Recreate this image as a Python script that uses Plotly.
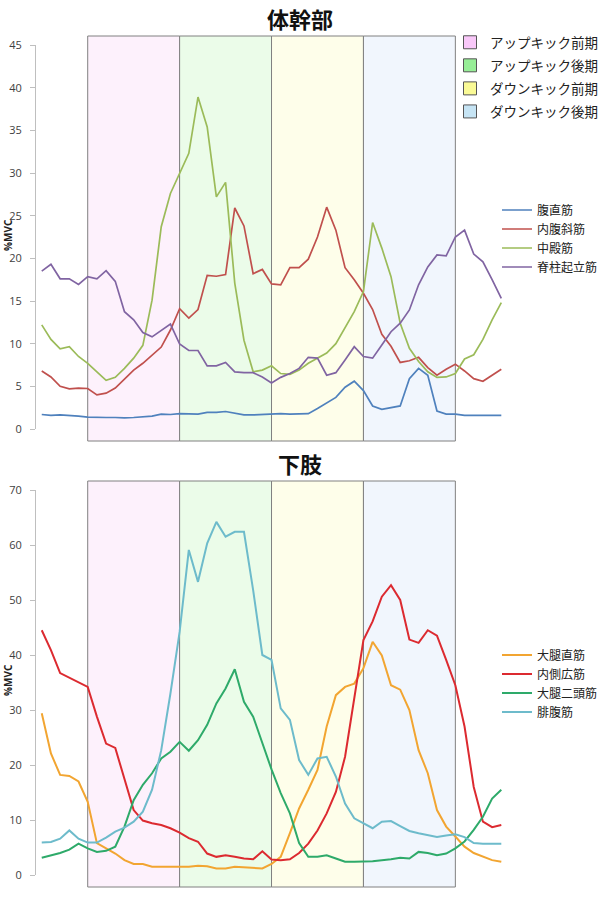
import plotly.graph_objects as go

# ---------------- data ----------------
idx = list(range(51))  # 51 samples over the pedal stroke

phase_names = ["アップキック前期", "アップキック後期", "ダウンキック前期", "ダウンキック後期"]
phase_bounds = [5, 15, 25, 35, 45]
phase_fill = ["#FDF1FC", "#EBFCE9", "#FEFEEA", "#F1F6FD"]
phase_swatch = ["#F9C8F9", "#97EE97", "#FAFA96", "#C6E4F4"]

trunk_names = ["腹直筋", "内腹斜筋", "中殿筋", "脊柱起立筋"]
trunk_colors = ["#4F81BD", "#C0504D", "#9BBB59", "#8064A2"]
rectus_abdominis = [1.7, 1.6, 1.65, 1.6, 1.5, 1.4, 1.35, 1.35, 1.35, 1.3,
                    1.35, 1.45, 1.5, 1.75, 1.7, 1.8, 1.75, 1.75, 1.95, 1.95,
                    2.05, 1.85, 1.65, 1.65, 1.7, 1.75, 1.8, 1.75, 1.75, 1.8,
                    2.4, 3.0, 3.7, 4.9, 5.6, 4.5, 2.7, 2.3, 2.5, 2.7,
                    5.9, 7.1, 6.3, 2.1, 1.75, 1.75, 1.6, 1.6, 1.6, 1.6, 1.6]
internal_oblique = [6.8, 6.1, 5.0, 4.7, 4.8, 4.75, 4.0, 4.2, 4.8, 5.9,
                    6.9, 7.7, 8.7, 9.6, 11.6, 14.1, 13.0, 14.0, 18.0, 17.9,
                    18.1, 25.9, 23.8, 18.2, 18.7, 17.0, 16.9, 18.9, 18.9, 19.9,
                    22.5, 26.0, 23.3, 18.9, 17.5, 15.9, 14.0, 11.1, 9.7, 7.8,
                    8.0, 8.4, 7.2, 6.3, 7.0, 7.6, 6.8, 5.9, 5.6, 6.3, 7.0]
gluteus_medius = [12.2, 10.5, 9.4, 9.65, 8.5, 7.7, 6.7, 5.7, 6.05, 7.1,
                  8.3, 9.8, 15.1, 23.7, 27.6, 30.0, 32.3, 38.9, 35.4, 27.2,
                  28.9, 17.1, 10.4, 6.7, 6.9, 7.4, 6.5, 6.4, 6.9, 7.7,
                  8.3, 8.9, 10.0, 11.8, 13.75, 16.1, 24.2, 21.2, 17.85, 12.4,
                  9.45, 7.9, 6.7, 6.05, 6.1, 6.5, 8.2, 8.7, 10.5, 12.8, 14.8]
erector_spinae = [18.5, 19.3, 17.6, 17.6, 16.95, 17.85, 17.6, 18.55, 17.3, 13.75,
                  12.8, 11.3, 10.8, 11.6, 12.3, 9.96, 9.2, 9.2, 7.4, 7.4,
                  7.8, 6.7, 6.6, 6.6, 6.1, 5.4, 6.05, 6.5, 7.1, 8.4,
                  8.3, 6.3, 6.6, 8.1, 9.65, 8.5, 8.3, 9.85, 11.4, 12.4,
                  13.95, 16.9, 19.0, 20.4, 20.3, 22.5, 23.3, 20.5, 19.6, 17.5, 15.3]

leg_names = ["大腿直筋", "内側広筋", "大腿二頭筋", "腓腹筋"]
leg_colors = ["#F2A531", "#DC2A30", "#2EAA6A", "#6DBBCB"]
rectus_femoris = [29.4, 22.1, 18.2, 18.0, 17.0, 13.3, 5.8, 4.85, 3.9, 2.7,
                  2.0, 2.0, 1.5, 1.5, 1.5, 1.4, 1.5, 1.7, 1.6, 1.2,
                  1.2, 1.5, 1.4, 1.2, 1.2, 2.0, 3.3, 7.6, 12.1, 15.5,
                  19.1, 27.0, 32.7, 34.2, 34.8, 37.6, 42.4, 39.9, 34.5, 33.7,
                  30.0, 22.7, 18.5, 11.8, 8.8, 7.0, 5.15, 4.0, 3.3, 2.7, 2.4]
vastus_medialis = [44.5, 40.9, 36.7, 35.9, 35.1, 34.2, 28.8, 23.9, 23.1, 17.3,
                   11.8, 9.9, 9.4, 9.1, 8.5, 7.7, 6.7, 6.05, 3.9, 3.3,
                   3.6, 3.3, 3.0, 2.85, 4.3, 2.8, 2.7, 2.85, 4.0, 5.7,
                   8.1, 11.2, 15.1, 21.5, 31.8, 42.7, 46.1, 50.6, 52.7, 50.0,
                   42.8, 42.2, 44.5, 43.5, 39.1, 34.5, 27.0, 16.0, 9.7, 8.7, 9.1]
biceps_femoris = [3.15, 3.6, 4.0, 4.6, 5.7, 4.85, 4.2, 4.4, 5.15, 8.8,
                  13.6, 16.4, 18.5, 21.2, 22.4, 24.2, 22.6, 24.5, 27.3, 31.2,
                  33.9, 37.4, 31.5, 28.8, 23.8, 19.2, 14.9, 11.2, 5.8, 3.3,
                  3.3, 3.6, 3.0, 2.4, 2.4, 2.4, 2.5, 2.7, 2.85, 3.15,
                  3.0, 4.2, 4.0, 3.6, 3.9, 4.85, 6.1, 8.2, 10.6, 13.9, 15.5]
gastrocnemius = [5.9, 6.0, 6.6, 8.1, 6.6, 5.9, 5.9, 6.8, 7.9, 8.6,
                 9.7, 11.5, 15.5, 22.7, 33.0, 44.2, 59.1, 53.3, 60.3, 64.2,
                 61.5, 62.4, 62.4, 51.8, 40.0, 39.1, 30.3, 28.2, 20.9, 18.2,
                 21.2, 21.5, 17.9, 13.0, 10.3, 9.4, 8.5, 9.7, 9.8, 8.9,
                 8.0, 7.6, 7.2, 6.9, 7.2, 7.4, 6.9, 5.8, 5.7, 5.7, 5.7]

trunk_series = [rectus_abdominis, internal_oblique, gluteus_medius, erector_spinae]
leg_series = [rectus_femoris, vastus_medialis, biceps_femoris, gastrocnemius]

titles = ["体幹部", "下肢"]
y_label = "%MVC"

# ---------------- layout geometry ----------------
W, H = 600, 897
JP = "Noto Sans CJK JP"

def py(pix):  # pixel from top -> paper y
    return 1 - pix / H

x_dom = [36 / W, 505.9 / W]
x_rng = [-0.626, 50.5]
top_dom = [py(429), py(45)]
bot_dom = [py(875), py(490)]

fig = go.Figure()

# phase legend (dummy entries)
for k, name in enumerate(phase_names):
    fig.add_trace(go.Scatter(
        x=[None], y=[None], mode="markers", name=name,
        marker=dict(symbol="square", size=13, color=phase_swatch[k],
                    line=dict(color="#555555", width=1)),
        legend="legend", legendgroup=f"p{k}", xaxis="x", yaxis="y",
        hoverinfo="skip"))

for name, col, ys in zip(trunk_names, trunk_colors, trunk_series):
    fig.add_trace(go.Scatter(x=idx, y=ys, mode="lines", name=name,
                             line=dict(color=col, width=1.7),
                             legend="legend2", xaxis="x", yaxis="y"))

for name, col, ys in zip(leg_names, leg_colors, leg_series):
    fig.add_trace(go.Scatter(x=idx, y=ys, mode="lines", name=name,
                             line=dict(color=col, width=2),
                             legend="legend3", xaxis="x2", yaxis="y2"))

# phase boxes
shapes = []
for xref, (ytop, ybot) in [("x", (36, 441)), ("x2", (481, 887))]:
    for k in range(4):
        shapes.append(dict(type="rect", xref=xref, yref="paper",
                           x0=phase_bounds[k], x1=phase_bounds[k + 1],
                           y0=py(ybot), y1=py(ytop),
                           fillcolor=phase_fill[k],
                           line=dict(color="#808080", width=1),
                           layer="below"))

yax_common = dict(showgrid=False, zeroline=False, showline=True,
                  linecolor="#BFBFBF", linewidth=1, ticks="outside",
                  tickcolor="#BFBFBF", ticklen=5, ticklabelstandoff=6,
                  automargin=False,
                  tickfont=dict(family="Open Sans", size=11, color="#404040"))

annotations = [
    dict(text=f"<b>{titles[0]}</b>", x=0.5, y=py(18), xref="paper", yref="paper",
         xanchor="center", yanchor="middle", showarrow=False,
         font=dict(family=JP, size=22, color="#111111")),
    dict(text=f"<b>{titles[1]}</b>", x=0.5, y=py(463), xref="paper", yref="paper",
         xanchor="center", yanchor="middle", showarrow=False,
         font=dict(family=JP, size=22, color="#111111")),
    dict(text=f"<b>{y_label}</b>", x=8 / W, y=py(235), xref="paper", yref="paper",
         xanchor="center", yanchor="middle", showarrow=False, textangle=-90,
         font=dict(family="Open Sans", size=10, color="#222222")),
    dict(text=f"<b>{y_label}</b>", x=8 / W, y=py(680), xref="paper", yref="paper",
         xanchor="center", yanchor="middle", showarrow=False, textangle=-90,
         font=dict(family="Open Sans", size=10, color="#222222")),
]

fig.update_layout(
    width=W, height=H,
    margin=dict(l=0, r=0, t=0, b=0, pad=0, autoexpand=False),
    paper_bgcolor="white", plot_bgcolor="rgba(0,0,0,0)",
    xaxis=dict(domain=x_dom, range=x_rng, visible=False, anchor="y"),
    xaxis2=dict(domain=x_dom, range=x_rng, visible=False, anchor="y2"),
    yaxis=dict(domain=top_dom, range=[0, 45], dtick=5, anchor="x", **yax_common),
    yaxis2=dict(domain=bot_dom, range=[0, 70], dtick=10, anchor="x2", **yax_common),
    shapes=shapes, annotations=annotations,
    legend=dict(x=450 / W, y=py(27), xanchor="left", yanchor="top",
                bgcolor="rgba(0,0,0,0)", tracegroupgap=2.5, itemwidth=30,
                font=dict(family=JP, size=13.5, color="#222222")),
    legend2=dict(x=497 / W, y=py(195.5), xanchor="left", yanchor="top",
                 bgcolor="rgba(0,0,0,0)", itemwidth=30,
                 font=dict(family=JP, size=12, color="#222222")),
    legend3=dict(x=497 / W, y=py(640.5), xanchor="left", yanchor="top",
                 bgcolor="rgba(0,0,0,0)", itemwidth=30,
                 font=dict(family=JP, size=12, color="#222222")),
    showlegend=True,
)

fig.write_html("out.html")
